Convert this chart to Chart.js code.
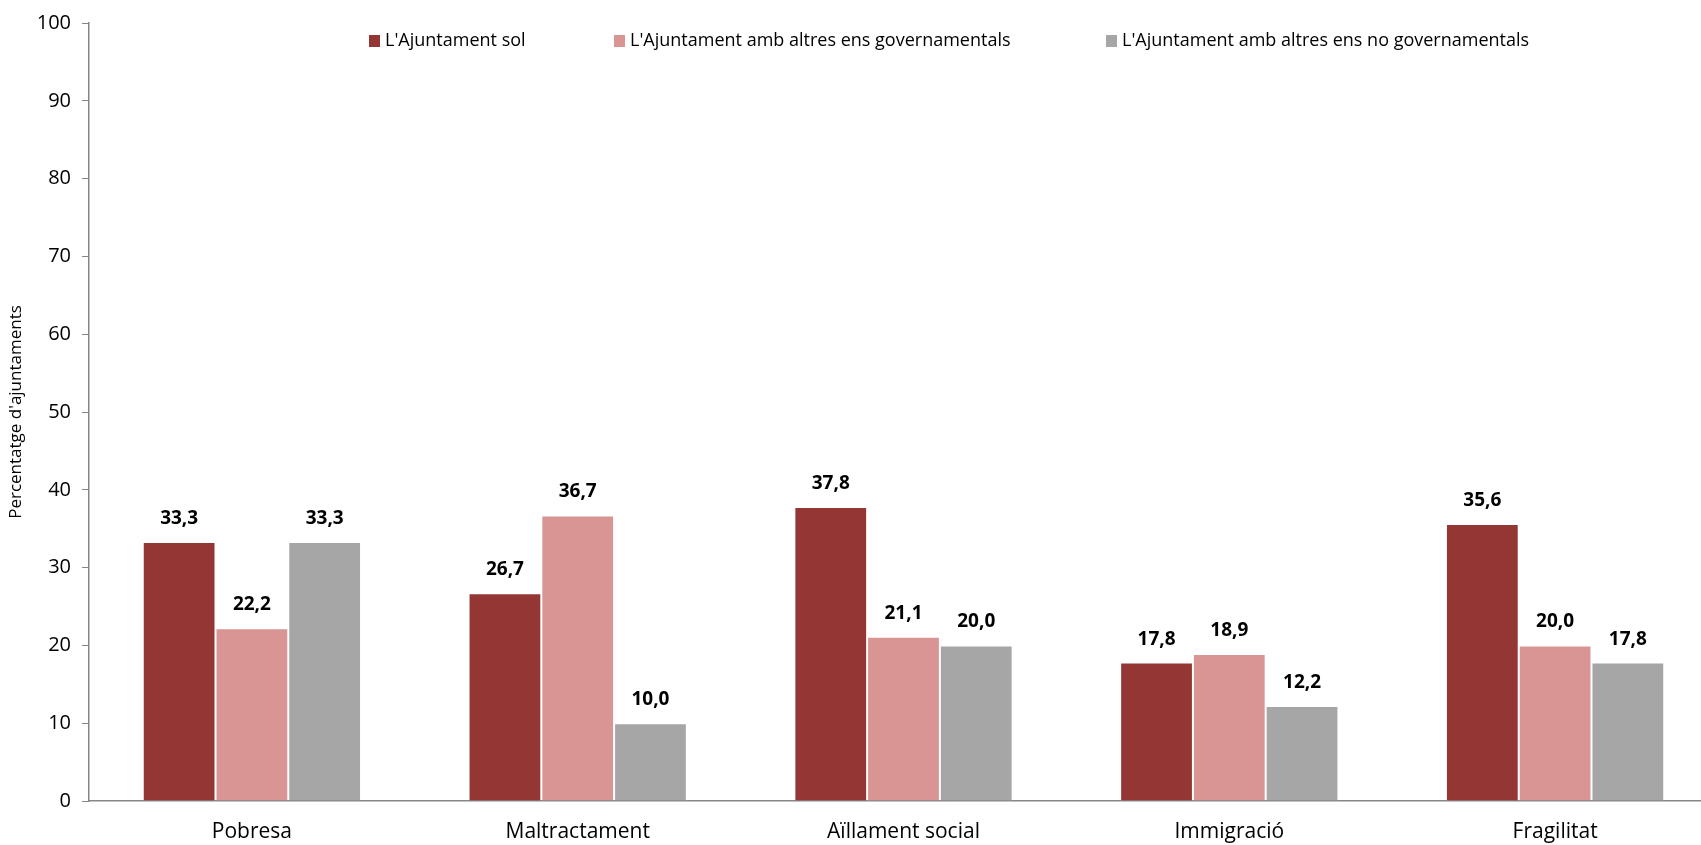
<!DOCTYPE html>
<html>
<head>
<meta charset="utf-8">
<script src="https://cdn.jsdelivr.net/npm/chart.js@4/dist/chart.umd.min.js"></script>
<style>
  html, body { margin: 0; padding: 0; background: #fff; overflow: hidden; }
  #wrap { width: 1720px; height: 845px; position: relative; }
</style>
</head>
<body>
<div id="wrap"><canvas id="grafic"></canvas></div>
<script>
// dades llegides del gràfic
const categories = ["Pobresa", "Maltractament", "Aïllament social", "Immigració", "Fragilitat"];
const nomsSeries = [
  "L'Ajuntament sol",
  "L'Ajuntament amb altres ens governamentals",
  "L'Ajuntament amb altres ens no governamentals"
];
const ajuntamentSol = [33.3, 26.7, 37.8, 17.8, 35.6];
const ambGovernamentals = [22.2, 36.7, 21.1, 18.9, 20.0];
const ambNoGovernamentals = [33.3, 10.0, 20.0, 12.2, 17.8];
const ticksY = [0, 10, 20, 30, 40, 50, 60, 70, 80, 90, 100];

const colors = ["#943634", "#D99594", "#A6A6A6"];
const FONT = "'Open Sans', 'Noto Sans', sans-serif";

// llegenda dins l'àrea del gràfic
const llegenda = {
  id: "llegenda",
  afterDraw(chart) {
    const ctx = chart.ctx;
    const xs = [369, 614, 1106];
    const y = 41;
    ctx.save();
    ctx.font = "18px " + FONT;
    ctx.textBaseline = "middle";
    ctx.textAlign = "left";
    chart.data.datasets.forEach((ds, i) => {
      ctx.fillStyle = ds.backgroundColor;
      ctx.fillRect(xs[i], y - 6, 11, 12);
      ctx.fillStyle = "#000";
      ctx.fillText(ds.label, xs[i] + 16, y);
    });
    ctx.restore();
  }
};

// etiquetes de valor sobre les barres
const etiquetes = {
  id: "etiquetes",
  afterDatasetsDraw(chart) {
    const ctx = chart.ctx;
    ctx.save();
    ctx.font = "bold 19px " + FONT;
    ctx.fillStyle = "#000";
    ctx.textAlign = "center";
    ctx.textBaseline = "alphabetic";
    chart.data.datasets.forEach((ds, i) => {
      chart.getDatasetMeta(i).data.forEach((bar, j) => {
        const txt = ds.data[j].toFixed(1).replace(".", ",");
        ctx.fillText(txt, bar.x, bar.y - 18);
      });
    });
    ctx.restore();
  }
};

const ctx = document.getElementById("grafic");
new Chart(ctx, {
  type: "bar",
  data: {
    labels: categories,
    datasets: [
      { label: nomsSeries[0], data: ajuntamentSol, backgroundColor: colors[0] },
      { label: nomsSeries[1], data: ambGovernamentals, backgroundColor: colors[1] },
      { label: nomsSeries[2], data: ambNoGovernamentals, backgroundColor: colors[2] }
    ].map(d => Object.assign(d, {
      borderColor: "rgba(255,255,255,0.4)",
      borderWidth: 1,
      borderSkipped: "bottom",
      categoryPercentage: 0.67,
      barPercentage: 1
    }))
  },
  options: {
    responsive: true,
    maintainAspectRatio: false,
    animation: false,
    layout: { padding: { top: 19, right: 2, left: 0, bottom: 0 } },
    plugins: {
      legend: { display: false },
      tooltip: { enabled: false }
    },
    scales: {
      x: {
        grid: { display: false, drawTicks: false },
        border: { display: true, color: "#868686", width: 1.5 },
        ticks: { color: "#000", font: { family: FONT, size: 21 }, padding: 18 },
        afterFit: s => { s.height = 44; }
      },
      y: {
        min: 0,
        max: 100,
        afterBuildTicks: s => { s.ticks = ticksY.map(v => ({ value: v })); },
        grid: { display: true, drawOnChartArea: false, drawTicks: true, tickLength: 7, color: "#868686" },
        border: { display: true, color: "#868686", width: 1.5 },
        ticks: { color: "#000", font: { family: FONT, size: 20 }, padding: 11 },
        title: {
          display: true,
          text: "Percentatge d'ajuntaments",
          color: "#000",
          font: { family: FONT, size: 17 },
          padding: { top: 6, bottom: 0 }
        },
        afterFit: s => { s.width = 89; }
      }
    }
  },
  plugins: [llegenda, etiquetes]
});
</script>
</body>
</html>
